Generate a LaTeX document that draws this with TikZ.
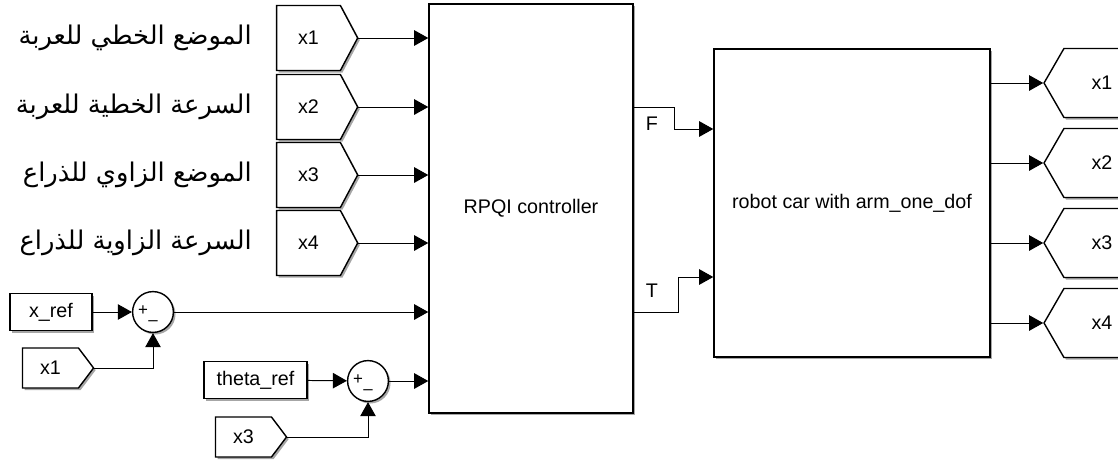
\documentclass[tikz,border=0pt]{standalone}
\usepackage{fontspec}
\setmainfont{Liberation Sans}
\newfontfamily\arabicfont[Script=Arabic]{DejaVu Sans}
\TeXXeTstate=1
\usetikzlibrary{arrows.meta,shapes.symbols,shadows}

\tikzset{
	sig/.style={-{Triangle[length=10pt,width=11pt]},line width=0.7pt},
	shd/.style={drop shadow={shadow xshift=1.5pt,shadow yshift=-1.5pt,opacity=0.35,fill=black}},
	blk/.style={draw,line width=1pt,fill=white,shd,inner sep=0pt,font=\fontsize{14}{16}\selectfont},
	fromtag/.style={blk,signal,signal to=east,signal pointer angle=124,minimum width=2.025cm,minimum height=1.625cm},
	fromsmall/.style={blk,signal,signal to=east,signal pointer angle=106,minimum width=1.775cm,minimum height=1cm},
	gototag/.style={blk,signal,signal to=west,signal pointer angle=120,minimum width=2.4cm,minimum height=1.725cm},
	constbox/.style={blk,rectangle,minimum height=0.925cm},
	sumblk/.style={blk,circle,minimum size=1.02cm},
	sgn/.style={inner sep=0pt,font=\fontsize{12}{12}\selectfont},
	arlabel/.style={anchor=east,inner sep=0pt,font=\arabicfont\fontsize{18.3}{20}\selectfont}
}

\begin{document}
\begin{tikzpicture}[x=0.025cm,y=-0.025cm]
	\clip (0,0) rectangle (1118,461);		%frame
	
	%BLOCKS
	\node[blk,minimum width=5.1cm,minimum height=10.225cm] (ctrl) at (531,208.5) {RPQI controller};
	\node[blk,minimum width=6.9cm,minimum height=7.7cm] (plant) at (852,203) {robot car with arm\_one\_dof};
	
	%INPUT TAGS
	\foreach \i/\y in {1/38,2/107,3/175,4/243}{
		\node[fromtag] (f\i) at (308.5,\y) {x\i};
		\draw[sig] (f\i.east) -- (f\i.east -| ctrl.west);
	}
	\node[arlabel] (a1) at (252,38) {\beginR الموضع الخطي للعربة\endR};
	\node[arlabel] (a2) at (252,107) {\beginR السرعة الخطية للعربة\endR};
	\node[arlabel] (a3) at (252,175) {\beginR الموضع الزاوي للذراع\endR};
	\node[arlabel] (a4) at (252,243) {\beginR السرعة الزاوية للذراع\endR};
	
	%OUTPUT TAGS
	\foreach \i/\y in {1/83,2/163,3/243,4/323}{
		\node[gototag] (g\i) at (1102,\y) {x\i};
		\draw[sig] (plant.east |- g\i.west) -- (g\i.west);
	}
	
	%REFERENCES AND SUMS
	\node[constbox,minimum width=2.05cm] (xref) at (51,312) {x\_ref};
	\node[sumblk] (s1) at (153,312) {};
	\node[sgn] at (143,311) {+};
	\node[sgn] at (153,323) {\textendash};
	\node[fromsmall] (b1) at (50.5,368) {x1};
	
	\node[constbox,minimum width=2.575cm] (tref) at (255.5,380) {theta\_ref};
	\node[sumblk] (s2) at (368,381) {};
	\node[sgn] at (358,380) {+};
	\node[sgn] at (368,392) {\textendash};
	\node[fromsmall] (b3) at (243.5,437) {x3};
	
	\draw[sig] (xref) -- (s1);
	\draw[sig] (b1.east) -| (s1.south);
	\draw[sig] (s1.east) -- (s1.east -| ctrl.west);
	\draw[sig] (tref) -- (s2);
	\draw[sig] (b3.east) -| (s2.south);
	\draw[sig] (s2.east) -- (s2.east -| ctrl.west);
	
	%CONTROLLER TO PLANT
	\coordinate (pF) at (ctrl.east |- 0,107);
	\coordinate (qF) at (plant.west |- 0,129);
	\coordinate (pT) at (ctrl.east |- 0,312);
	\coordinate (qT) at (plant.west |- 0,277);
	\draw[sig] (pF) -- ++(41,0) |- (qF);
	\draw[sig] (pT) -- ++(45,0) |- (qT);
	\node[font=\fontsize{14}{16}\selectfont] (lF) at (652,124) {F};
	\node[font=\fontsize{14}{16}\selectfont] (lT) at (652,291) {T};
\end{tikzpicture}
\end{document}
